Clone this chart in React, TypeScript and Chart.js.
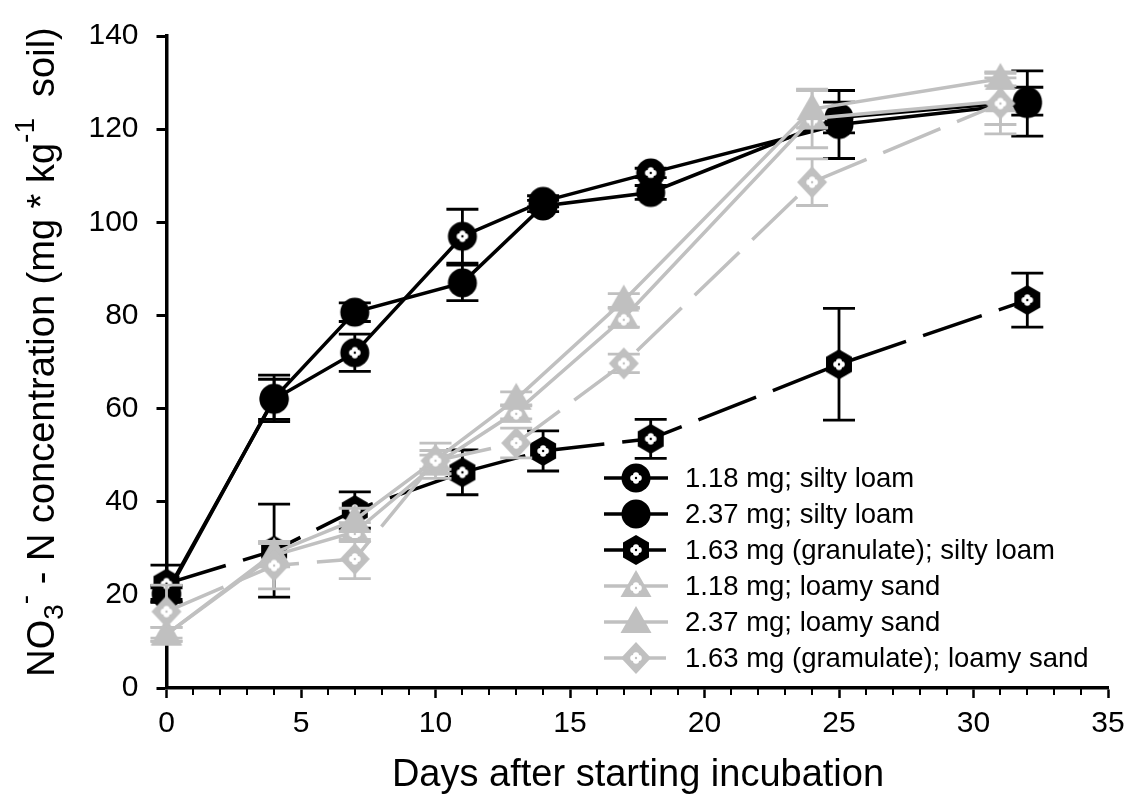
import React, { useEffect, useRef } from 'react';
import { Chart, registerables } from 'chart.js';

Chart.register(...registerables);

// Sampling days (silty loam and loamy sand were sampled on different days)
const siltDays = [0, 4, 7, 11, 14, 18, 25, 32];
const sandDays = [0, 4, 7, 10, 13, 17, 24, 31];

// NO3- - N concentration, mg per kg soil, with standard deviations
const silt118 = [20.5, 62, 72, 97, 104.5, 110.6, 121, 125.5];
const silt118Err = [1.5, 4.3, 4, 5.8, 1.2, 1, 7.3, 7];
const silt237 = [20, 62.2, 80.7, 87, 103.5, 106.4, 122.5, 126];
const silt237Err = [1.5, 5, 2, 3.8, 1.2, 1.5, 3.3, 3];
const silt163 = [22.4, 29.5, 38.2, 46.3, 50.9, 53.5, 69.5, 83.3];
const silt163Err = [4, 10, 3.9, 4.8, 4.3, 4.2, 12, 5.8];
const sand118 = [11.5, 28.5, 33.5, 48, 59.3, 79.5, 122.3, 126];
const sand118Err = [1.5, 2.5, 2, 2, 1.5, 2, 6.3, 5];
const sand237 = [11.5, 29, 36.1, 49, 62.1, 83.2, 124.3, 130.8];
const sand237Err = [1.5, 2.5, 2.5, 2, 1.5, 1.5, 4, 1.5];
const sand163 = [16.4, 26.3, 27.7, 48.8, 52.6, 69.7, 108.6, 125.5];
const sand163Err = [5.7, 5, 4.2, 3.8, 3.2, 2, 5, 6.5];

const seriesLabels = [
  '1.18 mg; silty loam',
  '2.37 mg; silty loam',
  '1.63 mg (granulate); silty loam',
  '1.18 mg; loamy sand',
  '2.37 mg; loamy sand',
  '1.63 mg (gramulate); loamy sand',
];

const xTitle = 'Days after starting incubation';

const FONT = '"Liberation Sans", Arial, Helvetica, sans-serif';
const BLACK = '#000000';
const GRAY = '#c0c0c0';
const DASH = [62, 18];

function makeMarker(shape: string, color: string, cross: boolean): HTMLCanvasElement {
  const c = document.createElement('canvas');
  c.width = 36;
  c.height = 36;
  const g = c.getContext('2d') as CanvasRenderingContext2D;
  g.translate(18, 18);
  g.fillStyle = color;
  g.beginPath();
  if (shape === 'circle') {
    g.arc(0, 0, 14.5, 0, Math.PI * 2);
  } else if (shape === 'hexagon') {
    for (let k = 0; k < 6; k++) {
      const a = -Math.PI / 2 + (k * Math.PI) / 3;
      const px = Math.cos(a) * 15;
      const py = Math.sin(a) * 15;
      if (k === 0) g.moveTo(px, py);
      else g.lineTo(px, py);
    }
  } else if (shape === 'triangle') {
    g.moveTo(0, -16);
    g.lineTo(15.5, 11);
    g.lineTo(-15.5, 11);
  } else {
    g.moveTo(0, -16);
    g.lineTo(15, 0);
    g.lineTo(0, 16);
    g.lineTo(-15, 0);
  }
  g.closePath();
  g.fill();
  if (cross) {
    const cy = shape === 'triangle' ? 2 : 0;
    g.fillStyle = '#ffffff';
    const o = 2.8;
    const r = 3;
    [[o, 0], [-o, 0], [0, o], [0, -o]].forEach(([dx, dy]) => {
      g.beginPath();
      g.arc(dx, cy + dy, r, 0, Math.PI * 2);
      g.fill();
    });
    g.fillStyle = color;
    g.beginPath();
    g.arc(0, cy, 1.2, 0, Math.PI * 2);
    g.fill();
  }
  return c;
}

export default function App() {
  const ref = useRef<HTMLCanvasElement | null>(null);

  useEffect(() => {
    document.body.style.margin = '0';
    const canvas = ref.current;
    if (!canvas) return;

    const markers = [
      makeMarker('circle', BLACK, true),
      makeMarker('circle', BLACK, false),
      makeMarker('hexagon', BLACK, true),
      makeMarker('triangle', GRAY, true),
      makeMarker('triangle', GRAY, false),
      makeMarker('diamond', GRAY, true),
    ];
    const colors = [BLACK, BLACK, BLACK, GRAY, GRAY, GRAY];
    const dashed = [false, false, true, false, false, true];
    const days = [siltDays, siltDays, siltDays, sandDays, sandDays, sandDays];
    const values = [silt118, silt237, silt163, sand118, sand237, sand163];
    const errors = [silt118Err, silt237Err, silt163Err, sand118Err, sand237Err, sand163Err];

    const datasets = seriesLabels.map((label, i) => ({
      label,
      data: days[i].map((d, j) => ({ x: d, y: values[i][j] })),
      borderColor: colors[i],
      backgroundColor: colors[i],
      borderWidth: 3.5,
      borderDash: dashed[i] ? DASH : [],
      pointStyle: markers[i],
      pointRadius: 15,
      pointHoverRadius: 15,
      showLine: true,
      tension: 0,
      clip: false,
      order: 6 - i,
    }));

    const extras = {
      id: 'extras',
      beforeDatasetDraw(chart: any, args: any) {
        const i = args.index;
        const xs = chart.scales.x;
        const ys = chart.scales.y;
        const ctx = chart.ctx;
        ctx.save();
        ctx.strokeStyle = colors[i];
        ctx.lineWidth = 2.8;
        ctx.setLineDash([]);
        days[i].forEach((d, j) => {
          const px = xs.getPixelForValue(d);
          const top = ys.getPixelForValue(values[i][j] + errors[i][j]);
          const bot = ys.getPixelForValue(values[i][j] - errors[i][j]);
          ctx.beginPath();
          ctx.moveTo(px, top);
          ctx.lineTo(px, bot);
          ctx.moveTo(px - 16, top);
          ctx.lineTo(px + 16, top);
          ctx.moveTo(px - 16, bot);
          ctx.lineTo(px + 16, bot);
          ctx.stroke();
        });
        ctx.restore();
      },
      afterDraw(chart: any) {
        const ctx = chart.ctx;
        const xs = chart.scales.x;
        const area = chart.chartArea;
        ctx.save();

        // minor ticks on the day axis
        ctx.strokeStyle = BLACK;
        ctx.lineWidth = 2;
        for (let d = 0; d <= 35; d++) {
          if (d % 5 === 0) continue;
          const px = Math.round(xs.getPixelForValue(d));
          ctx.beginPath();
          ctx.moveTo(px, area.bottom);
          ctx.lineTo(px, area.bottom + 7);
          ctx.stroke();
        }

        // x axis title
        ctx.fillStyle = BLACK;
        ctx.font = `38px ${FONT}`;
        ctx.textAlign = 'center';
        ctx.textBaseline = 'alphabetic';
        ctx.fillText(xTitle, 638, 786);

        // y axis title with sub- and superscripts
        const main = `38px ${FONT}`;
        const small = `28px ${FONT}`;
        const parts: [string, string, number][] = [
          ['NO', main, 0],
          ['3', small, 9.5],
          ['-', small, -20],
          [' - N concentration (mg * kg', main, 0],
          ['-1', small, -20],
          ['  soil)', main, 0],
        ];
        let total = 0;
        parts.forEach(([t, f]) => {
          ctx.font = f;
          total += ctx.measureText(t).width;
        });
        ctx.translate(53.5, 352 + total / 2);
        ctx.rotate(-Math.PI / 2);
        ctx.textAlign = 'left';
        let cx = 0;
        parts.forEach(([t, f, dy]) => {
          ctx.font = f;
          ctx.fillText(t, cx, dy);
          cx += ctx.measureText(t).width;
        });
        ctx.setTransform(1, 0, 0, 1, 0, 0);

        // legend
        ctx.font = `27.5px ${FONT}`;
        ctx.textAlign = 'left';
        ctx.textBaseline = 'middle';
        seriesLabels.forEach((label, i) => {
          const y = 478 + i * 36;
          ctx.strokeStyle = colors[i];
          ctx.lineWidth = 3.5;
          ctx.setLineDash(dashed[i] ? DASH : []);
          ctx.beginPath();
          ctx.moveTo(604, y);
          ctx.lineTo(668, y);
          ctx.stroke();
          ctx.setLineDash([]);
          const m = markers[i];
          ctx.drawImage(m, 636 - m.width / 2, y - m.height / 2);
          ctx.fillStyle = BLACK;
          ctx.fillText(label, 685, y + 1);
        });
        ctx.restore();
      },
    };

    const tickFont = { family: FONT, size: 30 };
    const chart = new Chart(canvas, {
      type: 'scatter',
      data: { datasets: datasets as any },
      options: {
        animation: false,
        responsive: false,
        events: [],
        layout: { padding: { left: 0, right: 28, top: 23, bottom: 0 } },
        plugins: { legend: { display: false }, tooltip: { enabled: false } },
        scales: {
          x: {
            type: 'linear',
            min: 0,
            max: 35,
            afterFit: (s: any) => {
              s.height = 108;
            },
            ticks: { stepSize: 5, padding: 8, color: BLACK, font: tickFont, maxRotation: 0, autoSkip: false },
            grid: { drawOnChartArea: false, drawTicks: true, tickLength: 10, tickWidth: 2.5, tickColor: BLACK },
            border: { display: true, color: BLACK, width: 3.5 },
          },
          y: {
            type: 'linear',
            min: 0,
            max: 140,
            afterFit: (s: any) => {
              s.width = 166.5;
            },
            ticks: { stepSize: 20, padding: 18, color: BLACK, font: tickFont },
            grid: { drawOnChartArea: false, drawTicks: true, tickLength: 10, tickWidth: 3, tickColor: BLACK },
            border: { display: true, color: BLACK, width: 3.5 },
          },
        },
      } as any,
      plugins: [extras],
    });

    return () => chart.destroy();
  }, []);

  return <canvas ref={ref} width={1136} height={796} style={{ display: 'block' }} />;
}
